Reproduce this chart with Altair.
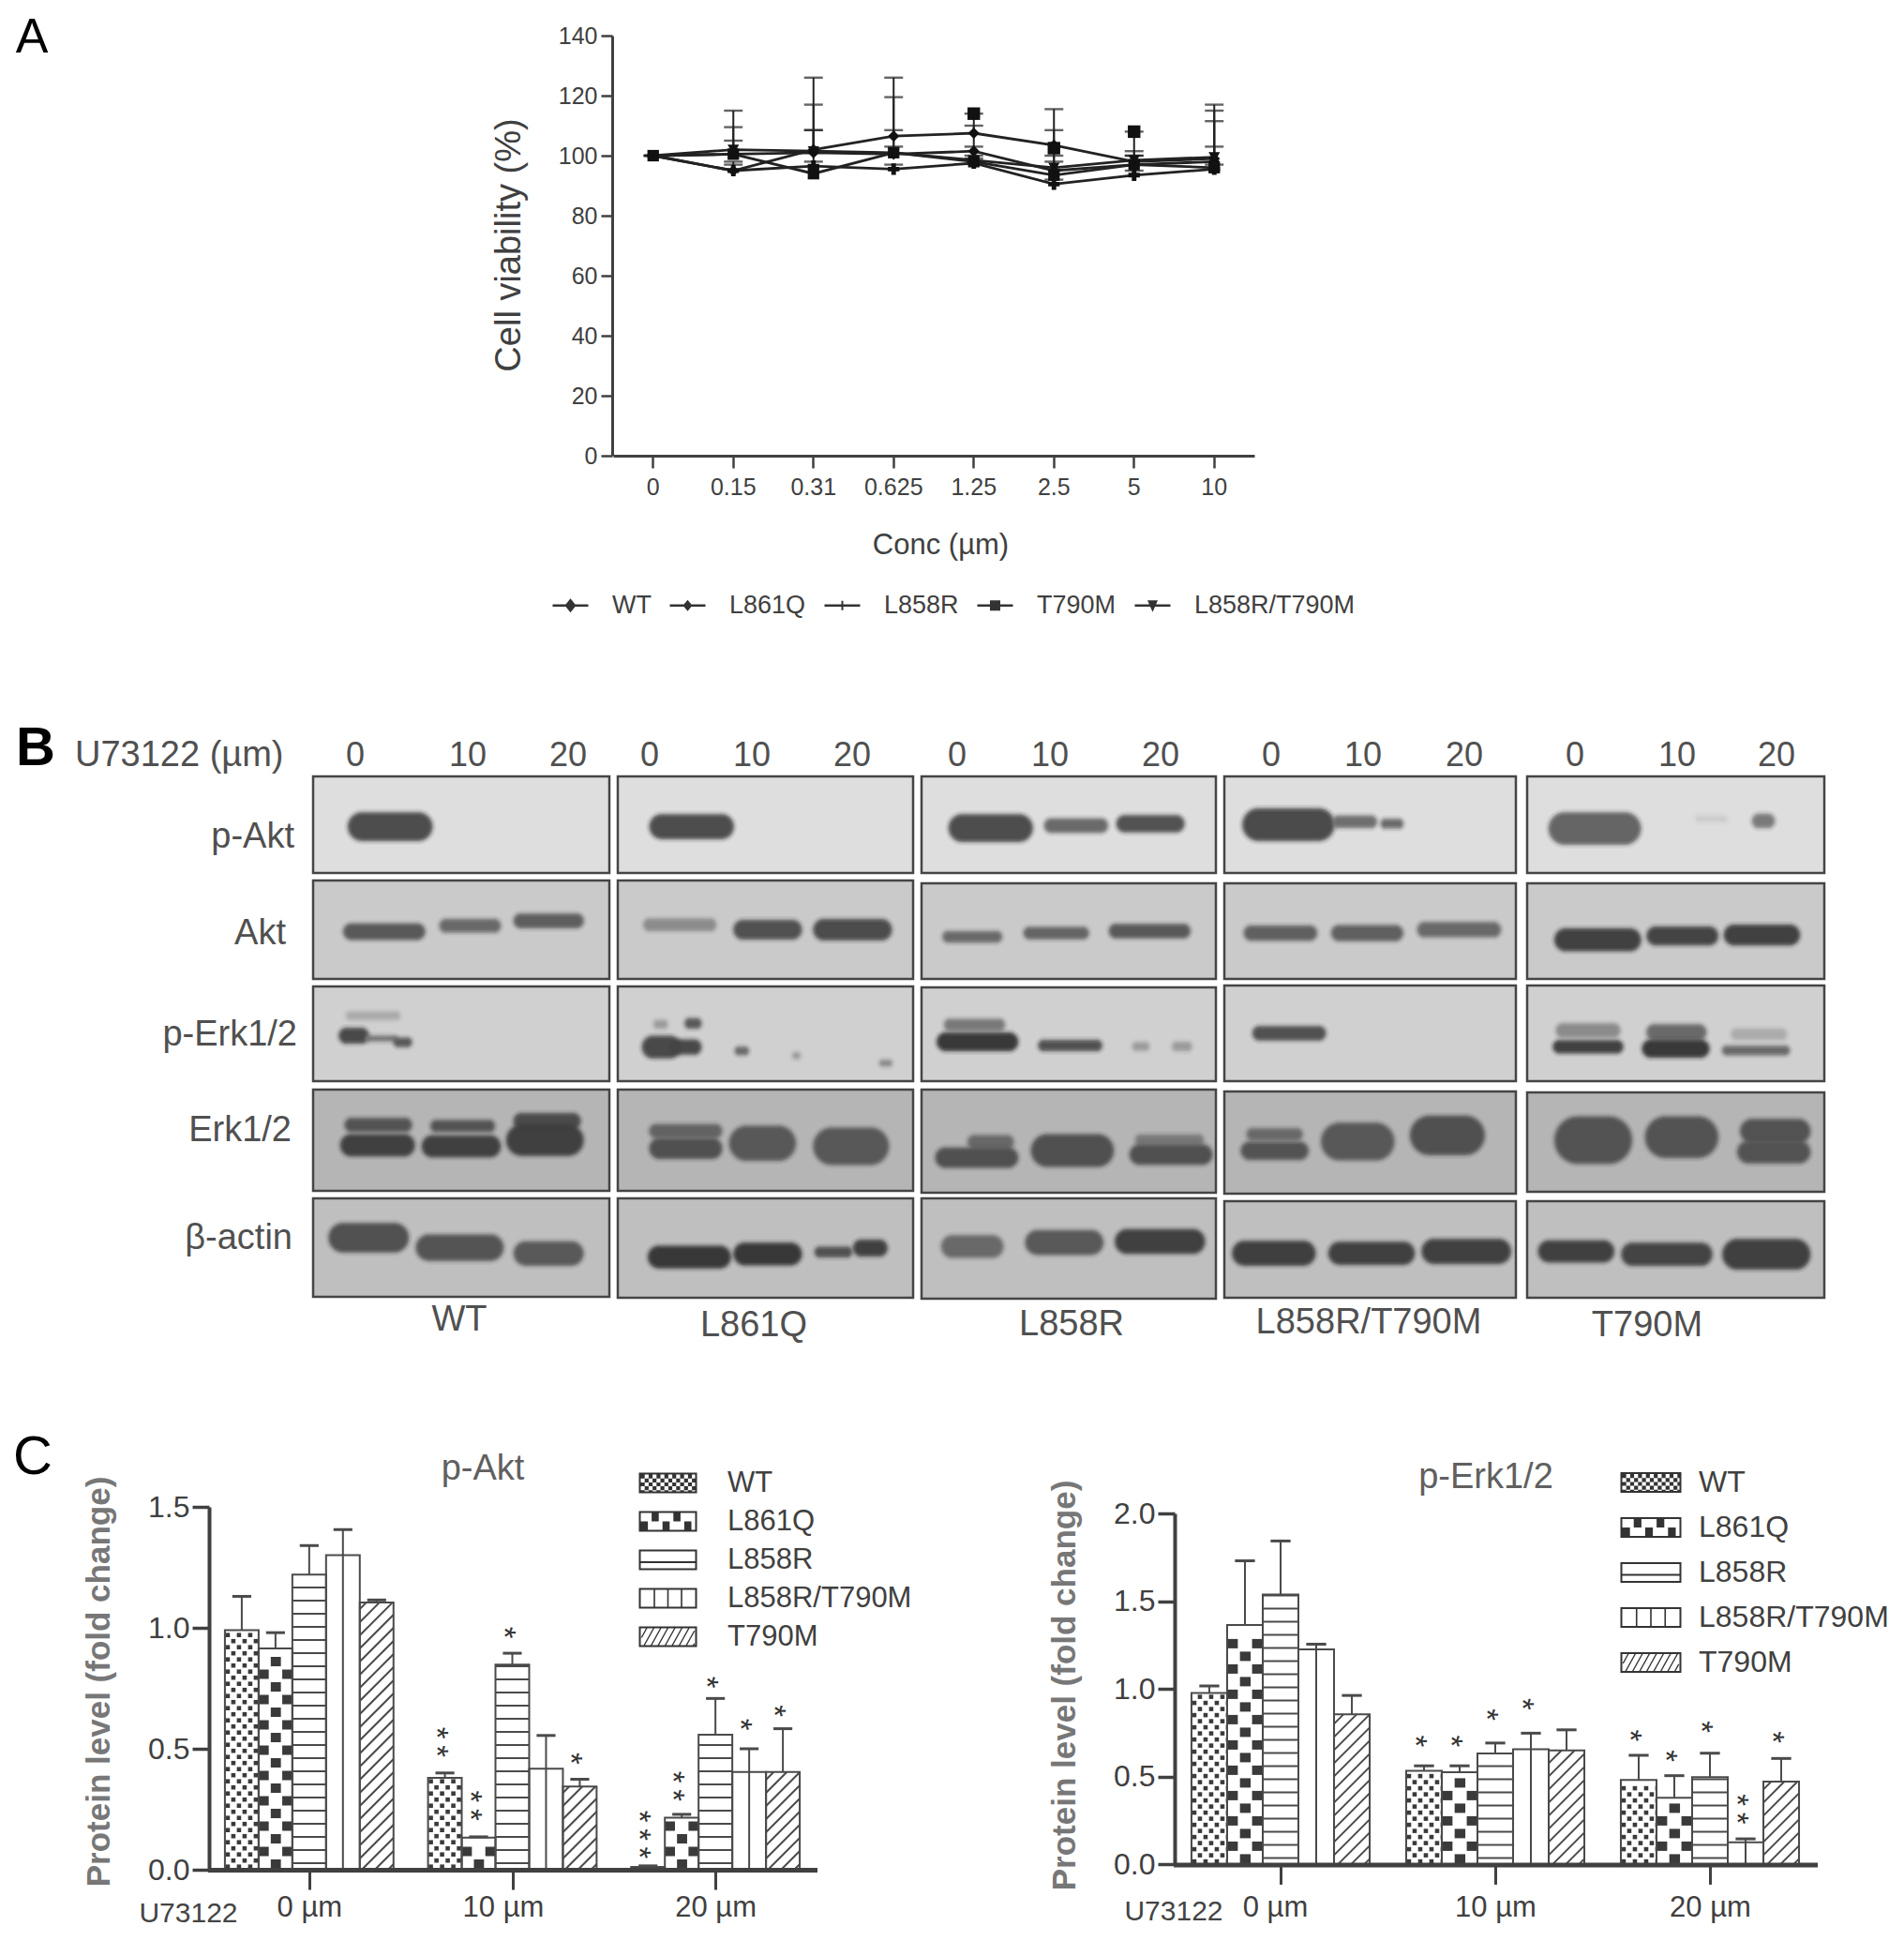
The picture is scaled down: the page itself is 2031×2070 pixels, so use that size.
import numpy as np
import pandas as pd
import altair as alt

alt.data_transformers.disable_max_rows()

W, H = 2015, 2054
SANS = "Liberation Sans"
INK = "#404040"

# ---------- Panel A values
conc = ["0", "0.15", "0.31", "0.625", "1.25", "2.5", "5", "10"]
series_a = ["WT", "L861Q", "L858R", "T790M", "L858R/T790M"]
wt_mean = [100, 100.5, 101, 100.5, 101.5, 95, 97, 98]
l861q_mean = [100, 95, 102, 106.5, 107.5, 103.5, 98, 99]
l858r_mean = [100, 95, 96.5, 95.5, 97.5, 90.5, 93.5, 95.5]
t790m_mean = [100, 100.5, 94, 101, 98, 93.5, 97, 96]
dbl_mean = [100, 102, 101.5, 101, 98.5, 96, 98.5, 99.5]
wt_hi = [100, 105, 108.5, 108.5, 103, 108.5, 101.5, 103]
l861q_hi = [100, 98, 117, 126, 110, 115.5, 100, 115]
l858r_hi = [100, 97, 98, 97, 99, 92, 95, 97]
t790m_hi = [100, 115, 108.5, 119.5, 114, 100, 108, 111.5]
dbl_hi = [100, 109.5, 126, 103, 100, 98, 100, 117]
t790m_extra_conc = ["1.25", "2.5", "5"]
t790m_extra_val = [114, 102.5, 108]

# ---------- Panel C values
doses = ["0 \u00b5m", "10 \u00b5m", "20 \u00b5m"]
genotypes = ["WT", "L861Q", "L858R", "L858R/T790M", "T790M"]
akt_mean = [[.99, .915, 1.22, 1.30, 1.105], [.38, .133, .848, .418, .344], [.012, .215, .558, .404, .404]]
akt_top = [[1.13, .98, 1.34, 1.406, 1.115], [.40, .136, .895, .555, .374], [.016, .229, .708, .50, .583]]
# (dose, genotype, height of the mark, number of asterisks)
akt_stars = [(1, 0, .5275, 2), (1, 1, .265, 2), (1, 2, .98, 1), (1, 4, .46, 1),
             (2, 0, .145, 3), (2, 1, .345, 2), (2, 2, .775, 1), (2, 3, .60, 1), (2, 4, .656, 1)]
erk_mean = [[.977, 1.364, 1.538, 1.225, .856], [.534, .525, .632, .656, .65], [.482, .38, .497, .126, .472]]
erk_top = [[1.017, 1.73, 1.843, 1.255, .963], [.562, .562, .692, .748, .767], [.622, .506, .634, .146, .604]]
erk_stars = [(1, 0, .703, 1), (1, 1, .703, 1), (1, 2, .853, 1), (1, 3, .913, 1),
             (2, 0, .735, 1), (2, 1, .618, 1), (2, 2, .784, 1), (2, 3, .315, 2), (2, 4, .725, 1)]

# ---------- Panel B: membranes, edges of each blot, and bands read as % of the blot
proteins = ["p-Akt", "Akt", "p-Erk1/2", "Erk1/2", "\u03b2-actin"]
blot_cols = {"WT": (334, 650), "L861Q": (659, 974), "L858R": (983, 1297), "L858R/T790M": (1306, 1617), "T790M": (1629, 1946)}
blot_rows = {
    "WT": [(828, 931), (939, 1044), (1052, 1153), (1162, 1270), (1278, 1383)],
    "L861Q": [(828, 931), (939, 1044), (1052, 1153), (1162, 1270), (1278, 1384)],
    "L858R": [(828, 931), (942, 1044), (1053, 1153), (1162, 1272), (1278, 1385)],
    "L858R/T790M": [(828, 931), (942, 1044), (1051, 1153), (1164, 1273), (1281, 1384)],
    "T790M": [(828, 931), (942, 1044), (1051, 1153), (1165, 1271), (1281, 1384)],
}
blot_bg = ["#dedede", "#cacaca", "#d0d0d0", "#b5b5b5", "#bfbfbf"]
bands = {
    "WT": [
        [(12, 40, 52, 28, "#484848")],
        [(10.5, 37.5, 52, 15, "#555555"), (43, 63, 46, 12, "#666666"), (68, 91, 41, 13, "#5a5a5a")],
        [(11.5, 29, 31, 7, "#aaaaaa"), (9, 18.5, 52, 15, "#444444"), (18, 28, 55, 4.5, "#777777"), (27.5, 33, 59, 8, "#555555")],
        [(11, 33, 35, 12, "#505050"), (9.5, 34, 55, 20, "#3c3c3c"), (40, 61, 36, 10, "#505050"), (37, 63, 56, 20, "#3c3c3c"), (68, 90, 31, 14, "#484848"), (65.5, 91, 50, 29, "#3c3c3c")],
        [(5.5, 32, 40, 28, "#4c4c4c"), (35, 64, 50, 25, "#505050"), (68, 91, 56, 23, "#555555")],
    ],
    "L861Q": [
        [(11, 39, 52, 24, "#484848")],
        [(9, 33, 45, 11, "#8a8a8a"), (39.5, 62, 50, 18, "#4c4c4c"), (66.5, 92.5, 50, 20, "#484848")],
        [(12.5, 16.5, 40, 7, "#999999"), (23, 28, 39, 9, "#555555"), (8.5, 21, 64, 22, "#444444"), (18.5, 28, 64, 14, "#444444"), (40, 44, 68, 7, "#666666"), (59.5, 61.5, 73, 5, "#999999"), (89, 92.5, 81, 5, "#888888")],
        [(11, 35, 41, 12, "#606060"), (11, 35, 58, 19, "#4c4c4c"), (38, 60, 53, 33, "#555555"), (66.5, 91.5, 56, 35, "#555555")],
        [(10.5, 38, 59, 21, "#333333"), (39.5, 62, 56, 21, "#333333"), (67, 79, 54, 9, "#4c4c4c"), (80, 91, 50, 15, "#3c3c3c")],
    ],
    "L858R": [
        [(9.5, 37.5, 53.5, 27, "#484848"), (42, 63, 51, 13, "#666666"), (66.5, 89, 49, 16, "#4c4c4c")],
        [(7.5, 27, 56, 10, "#666666"), (35, 56.5, 52, 11, "#606060"), (64, 91, 50, 13, "#555555")],
        [(8, 28, 40, 11, "#777777"), (5.5, 32.5, 58, 18, "#333333"), (40, 61, 62, 10, "#4c4c4c"), (72, 77, 63, 7, "#999999"), (85.5, 91.5, 63, 8, "#999999")],
        [(16, 31, 51, 12, "#666666"), (5, 32.5, 66, 18, "#4c4c4c"), (37.5, 65, 59, 30, "#4c4c4c"), (73, 95.5, 49, 9, "#777777"), (71, 98.5, 63, 18, "#4c4c4c")],
        [(7, 27.5, 48, 21, "#666666"), (35.5, 61.5, 44, 23, "#555555"), (66, 96, 43, 23, "#3c3c3c")],
    ],
    "L858R/T790M": [
        [(6.5, 37.5, 50, 32, "#464646"), (37.5, 52, 47, 11, "#6a6a6a"), (54, 61, 49, 8, "#666666")],
        [(7, 31.5, 52, 14, "#5c5c5c"), (37, 61, 52, 15, "#5c5c5c"), (66.5, 94.5, 48.5, 14, "#666666")],
        [(10, 34.5, 50, 13, "#4c4c4c")],
        [(8, 26.5, 42, 10, "#666666"), (6, 28.5, 58, 16, "#505050"), (33.5, 58, 49, 35, "#555555"), (64, 89, 43, 37, "#4c4c4c")],
        [(3, 31, 54, 24, "#3a3a3a"), (36, 65, 54, 22, "#3c3c3c"), (68, 98, 52, 24, "#3c3c3c")],
    ],
    "T790M": [
        [(7.5, 38, 54, 32, "#606060"), (76, 83, 46, 13, "#777777"), (57, 67, 44, 5, "#cccccc")],
        [(9.5, 38, 59, 22, "#3c3c3c"), (40.5, 64, 55, 18, "#404040"), (66.5, 91.5, 54, 20, "#3c3c3c")],
        [(10, 31, 47, 13, "#888888"), (9, 32, 64, 12, "#3c3c3c"), (40.5, 60, 49, 15, "#666666"), (39, 61, 66, 17, "#333333"), (69, 87, 51, 10, "#aaaaaa"), (66, 88, 68, 8, "#666666")],
        [(9.5, 35, 48, 46, "#505050"), (40, 64, 45, 40, "#505050"), (72, 95, 39, 23, "#505050"), (71, 95, 60, 21, "#505050")],
        [(4, 29, 52, 21, "#3c3c3c"), (32, 62, 55, 22, "#404040"), (66, 95, 55, 30, "#3c3c3c")],
    ],
}
lane_labels = ["0", "10", "20"]
lane_x = {"WT": (379, 499, 606), "L861Q": (693, 802, 909), "L858R": (1021, 1120, 1238), "L858R/T790M": (1356, 1454, 1562), "T790M": (1680, 1789, 1895)}
row_label_pos = [(314, 893), (305, 996), (317, 1104), (311, 1206), (312, 1321)]
column_label_pos = {"WT": (490, 1408), "L861Q": (804, 1414), "L858R": (1143, 1413), "L858R/T790M": (1460, 1411), "T790M": (1757, 1414)}


def P(v):
    return v - 8


# ---------- custom legend symbols (1 unit = 10 px at symbolSize 400)
def rp(x0, y0, x1, y1, ccw=False):
    if ccw:
        return f"M{x0:.3f},{y0:.3f}L{x0:.3f},{y1:.3f}L{x1:.3f},{y1:.3f}L{x1:.3f},{y0:.3f}Z"
    return f"M{x0:.3f},{y0:.3f}L{x1:.3f},{y0:.3f}L{x1:.3f},{y1:.3f}L{x0:.3f},{y1:.3f}Z"


def swatch(kind, hw, hh=1.1, t=0.2):
    s = rp(-hw, -hh, hw, hh) + rp(-hw + t, -hh + t, hw - t, hh - t, True)
    ix0, ix1, iy0, iy1 = -hw + t, hw - t, -hh + t, hh - t
    if kind == "WT":
        c = 0.42
        for r, y in enumerate(np.arange(iy0, iy1 - 1e-6, c)):
            for q, x in enumerate(np.arange(ix0, ix1 - 1e-6, c)):
                if (r + q) % 2 == 0:
                    s += rp(x, y, min(x + c, ix1), min(y + c, iy1))
    elif kind == "L861Q":
        cw = (ix1 - ix0) / 5
        ch = (iy1 - iy0) / 2
        for r in range(2):
            for q in range(5):
                if (r + q) % 2 == 1:
                    s += rp(ix0 + q * cw, iy0 + r * ch, ix0 + (q + 1) * cw - 0.4, iy0 + (r + 1) * ch)
    elif kind == "L858R":
        s += rp(ix0, 0.15, ix1, 0.35)
    elif kind == "L858R/T790M":
        cw = (ix1 - ix0) / 4
        for q in range(1, 4):
            s += rp(ix0 + q * cw - 0.08, iy0, ix0 + q * cw + 0.08, iy1)
    else:
        dx = 1.0
        for xb in np.arange(-hw - dx, hw, 0.75):
            a, b = xb, xb + dx
            ya, yb = iy1, iy0
            if a < ix0:
                ya = iy1 + (iy0 - iy1) * (ix0 - a) / dx
                a = ix0
            if b > ix1 - 0.15:
                yb = iy1 + (iy0 - iy1) * (ix1 - 0.15 - xb) / dx
                b = ix1 - 0.15
            if b <= a:
                continue
            s += f"M{a:.3f},{ya:.3f}L{b:.3f},{yb:.3f}L{b+.15:.3f},{yb:.3f}L{a+.15:.3f},{ya:.3f}Z"
    return s


def marker_symbol(kind, hw=1.9):
    s = rp(-hw, -0.13, hw, 0.13)
    if kind == "WT":
        s += "M0,-0.75L0.6,0L0,0.75L-0.6,0Z"
    elif kind == "L861Q":
        s += "M0,-0.6L0.5,0L0,0.6L-0.5,0Z"
    elif kind == "L858R":
        s += rp(-0.1, -0.5, 0.1, 0.5)
    elif kind == "T790M":
        s += rp(-0.55, -0.55, 0.55, 0.55)
    else:
        s += "M-0.55,-0.55L0.55,-0.55L0,0.7Z"
    return s


# ---------- Panel A
rows_a = []
for name, m, h in zip(series_a, [wt_mean, l861q_mean, l858r_mean, t790m_mean, dbl_mean],
                      [wt_hi, l861q_hi, l858r_hi, t790m_hi, dbl_hi]):
    for c, a, b in zip(conc, m, h):
        rows_a.append({"conc": c, "series": name, "val": a, "hi": b})
df_a = pd.DataFrame(rows_a)
df_a_extra = pd.DataFrame({"conc": t790m_extra_conc, "val": t790m_extra_val})

xa = alt.Scale(type="band", domain=conc, range=[P(654), P(1338)], paddingInner=0, paddingOuter=0)
ya = alt.Scale(domain=[0, 140], range=[P(486), P(38)], nice=False)
tick_style = dict(domainColor=INK, tickColor=INK, labelColor=INK, grid=False, zindex=1)
axis_xa = alt.Axis(title="Conc (\u00b5m)", labelAngle=0, orient="bottom", offset=P(486) - H, domainWidth=3,
                   tickWidth=2.5, tickSize=13, labelFont=SANS, labelFontSize=25, labelPadding=8,
                   titleFont=SANS, titleFontSize=31, titleFontWeight="normal", titleColor=INK,
                   titleX=P(1003), titleY=581 - 486, titleBaseline="middle", **tick_style)
axis_ya = alt.Axis(title="Cell viability (%)", orient="left", offset=-P(653), values=list(range(0, 141, 20)),
                   domainWidth=3, tickWidth=2.5, tickSize=12, labelFont=SANS, labelFontSize=25, labelPadding=4,
                   titleFont=SANS, titleFontSize=38, titleFontWeight="normal", titleColor=INK,
                   titleX=543 - 653, titleY=P(261), titleBaseline="middle", **tick_style)

a_rule = alt.Chart(df_a).mark_rule(color="#222222", strokeWidth=2).encode(
    x=alt.X("conc:N", scale=xa, axis=axis_xa), y=alt.Y("val:Q", scale=ya, axis=axis_ya), y2="hi:Q", detail="series:N")
a_cap = alt.Chart(df_a).mark_tick(color="#222222", thickness=2.4, size=20).encode(
    x=alt.X("conc:N", scale=xa, axis=None), y=alt.Y("hi:Q", scale=ya, axis=None))
a_line = alt.Chart(df_a).mark_line(color="#222222", strokeWidth=2.8).encode(
    x=alt.X("conc:N", scale=xa, axis=None), y=alt.Y("val:Q", scale=ya, axis=None), detail="series:N")
a_pts = alt.Chart(df_a).mark_point(filled=True, color="#111111", size=150, opacity=1).encode(
    x=alt.X("conc:N", scale=xa, axis=None), y=alt.Y("val:Q", scale=ya, axis=None),
    shape=alt.Shape("series:N", legend=None, scale=alt.Scale(
        domain=series_a, range=["diamond", "diamond", "cross", "square", "triangle-down"])))
a_extra = alt.Chart(df_a_extra).mark_point(filled=True, color="#111111", size=180, shape="square", opacity=1).encode(
    x=alt.X("conc:N", scale=xa, axis=None), y=alt.Y("val:Q", scale=ya, axis=None))
panel_a = [a_rule, a_cap, a_line, a_pts, a_extra]


# ---------- Panel C builder
BAR_W = 0.166


def bar_panel(means, tops, stars, x_range, y_range, ymax, yticks, axis_x_page, ytitle_x, ytitle_y, bar_px,
              label_shift, label_pad):
    px_per_unit = (y_range[0] - y_range[1]) / ymax
    px_per_x = (x_range[1] - x_range[0]) / 3
    xs = alt.Scale(domain=[-0.5, 2.5], range=[P(x_range[0]), P(x_range[1])], nice=False, zero=False)
    ys = alt.Scale(domain=[0, ymax], range=[P(y_range[0]), P(y_range[1])], nice=False)
    bars, err, caps, fills, lines = [], [], [], [], []
    for g, (mrow, trow) in enumerate(zip(means, tops)):
        for k, (m, t) in enumerate(zip(mrow, trow)):
            x0 = g + (k - 2.5) * BAR_W
            x1 = x0 + BAR_W
            xc = (x0 + x1) / 2
            bars.append({"x": x0, "x2": x1, "y": m})
            err.append({"x": xc, "y": m, "y2": t})
            caps.append({"x": x0 + BAR_W * 0.22, "x2": x1 - BAR_W * 0.22, "y": t})
            hpx = m * px_per_unit
            if k == 0:  # staggered dots
                step_y, step_x, dot = 6.5, 12.0, 4.6
                for r in range(int(hpx // step_y)):
                    start = -3.0 if r % 2 else 3.0
                    for cx in np.arange(start, bar_px + 3, step_x):
                        a, b = max(cx - dot / 2, 0), min(cx + dot / 2, bar_px)
                        if b > a:
                            fills.append({"x": x0 + a / px_per_x, "x2": x0 + b / px_per_x,
                                          "y": (r * step_y + 1) / px_per_unit,
                                          "y2": min(r * step_y + 1 + dot, hpx) / px_per_unit})
            elif k == 1:  # large chequer
                step = 13.5
                for r in range(int(hpx // step)):
                    ybot = r * step + 1
                    ytop = min(ybot + 10, hpx)
                    slots = [0.36] if r % 2 == 0 else [0.0, 0.70]
                    for f in slots:
                        fills.append({"x": x0 + f * BAR_W, "x2": x0 + (f + 0.30) * BAR_W,
                                      "y": ybot / px_per_unit, "y2": ytop / px_per_unit})
            elif k == 2:  # horizontal rules
                for h in np.arange(7, hpx, 14.0):
                    lines.append({"x": x0, "x2": x1, "y": h / px_per_unit, "y2": h / px_per_unit})
            elif k == 3:  # one vertical rule
                lines.append({"x": xc, "x2": xc, "y": 0, "y2": m})
            else:  # diagonal hatch rising to the right
                slope = 1.0
                for cc in np.arange(-slope * bar_px + 6, hpx, 14.0):
                    xa0, ha0 = 0.0, cc
                    if ha0 < 0:
                        xa0, ha0 = -cc / slope, 0.0
                    xa1, ha1 = bar_px, cc + slope * bar_px
                    if ha1 > hpx:
                        xa1, ha1 = (hpx - cc) / slope, hpx
                    if xa1 > xa0:
                        lines.append({"x": x0 + xa0 / px_per_x, "x2": x0 + xa1 / px_per_x,
                                      "y": ha0 / px_per_unit, "y2": ha1 / px_per_unit})
    star_df = pd.DataFrame([{"x": g + (k - 2) * BAR_W, "y": v, "s": "\u2009".join("*" * n)} for g, k, v, n in stars])
    labels_expr = "[" + ",".join(f"'{d}'" for d in doses) + "][datum.value]"
    axis_x = alt.Axis(title=None, orient="bottom", offset=P(y_range[0]) - H, values=[0, 1, 2], labelExpr=labels_expr,
                      domainWidth=5, tickWidth=3, tickSize=21, labelFont=SANS, labelFontSize=31, labelPadding=label_pad,
                      labelOffset={"condition": {"test": f"datum.value == {label_shift[0]}", "value": label_shift[1]}, "value": 0},
                      labelAngle=0, **tick_style)
    axis_y = alt.Axis(title="Protein level (fold change)", orient="left", offset=-P(axis_x_page), values=yticks,
                      format=".1f", domainWidth=4, tickWidth=3.5, tickSize=18, labelFont=SANS, labelFontSize=32,
                      labelFontWeight="normal", labelPadding=3, titleFont=SANS, titleFontSize=35, titleFontWeight="bold",
                      titleColor="#777777", titleX=ytitle_x - axis_x_page, titleY=P(ytitle_y), titleBaseline="middle",
                      **tick_style)
    X = lambda f="x", axis=None: alt.X(f"{f}:Q", scale=xs, axis=axis)
    Y = lambda f="y", axis=None: alt.Y(f"{f}:Q", scale=ys, axis=axis)
    b = pd.DataFrame(bars)
    return [
        alt.Chart(b).mark_rect(fill="white").encode(x=X("x", axis_x), x2="x2:Q", y=Y("y", axis_y), y2=alt.datum(0)),
        alt.Chart(pd.DataFrame(fills)).mark_rect(fill="#3a3a3a").encode(x=X(), x2="x2:Q", y=Y(), y2="y2:Q"),
        alt.Chart(pd.DataFrame(lines)).mark_rule(color="#4a4a4a", strokeWidth=2).encode(x=X(), x2="x2:Q", y=Y(), y2="y2:Q"),
        alt.Chart(b).mark_rect(fill="transparent", stroke="#4a4a4a", strokeWidth=2).encode(x=X(), x2="x2:Q", y=Y(), y2=alt.datum(0)),
        alt.Chart(pd.DataFrame(err)).mark_rule(color="#4a4a4a", strokeWidth=2).encode(x=X(), y=Y(), y2="y2:Q"),
        alt.Chart(pd.DataFrame(caps)).mark_rule(color="#4a4a4a", strokeWidth=3).encode(x=X(), x2="x2:Q", y=Y()),
        alt.Chart(star_df).mark_text(font=SANS, fontSize=33, color="#333333", baseline="middle", align="center",
                                     angle=90, dy=10).encode(x=X(), y=Y(), text="s:N"),
    ]


panel_c1 = bar_panel(akt_mean, akt_top, akt_stars, (221.5, 871.5), (1994, 1607), 1.5, [0, .5, 1, 1.5], 223, 105, 1793, 36,
                     (1, -10), 4)
panel_c2 = bar_panel(erk_mean, erk_top, erk_stars, (1251.5, 1938.5), (1988.4, 1614), 2.0, [0, .5, 1, 1.5, 2], 1253, 1135, 1797, 38,
                     (0, -6), 10)

# ---------- Panel B
xb = alt.Scale(domain=[0, W], range=[0, W], nice=False, zero=False)
yb = alt.Scale(domain=[0, H], range=[0, H], nice=False, zero=False)
bg_rows, band_rows = [], []
for g in blot_cols:
    x0, x1 = blot_cols[g]
    for i, (y0, y1) in enumerate(blot_rows[g]):
        bg_rows.append({"x": P(x0), "x2": P(x1), "y": P(y0), "y2": P(y1), "tone": blot_bg[i]})
        for (a, b, cy, hh, tone) in bands[g][i]:
            bx0 = x0 + a / 100 * (x1 - x0)
            bx1 = x0 + b / 100 * (x1 - x0)
            yc = y0 + cy / 100 * (y1 - y0)
            half = hh / 100 * (y1 - y0) / 2
            for grow, op in [(5, .08), (3.5, .14), (2, .22), (1, .32), (0, .42), (-1.5, .6), (-3, .6)]:
                hw = max(half + grow, 0.8)
                gx = max(grow, -(bx1 - bx0) / 2 + 1)
                band_rows.append({"x": P(bx0 - gx), "x2": P(bx1 + gx), "y": P(yc - hw), "y2": P(yc + hw),
                                  "tone": tone, "op": op})
Xb = lambda f="x": alt.X(f"{f}:Q", scale=xb, axis=None)
Yb = lambda f="y": alt.Y(f"{f}:Q", scale=yb, axis=None)
blot_bg_layer = alt.Chart(pd.DataFrame(bg_rows)).mark_rect(stroke="#454545", strokeWidth=2.5).encode(
    x=Xb(), x2="x2:Q", y=Yb(), y2="y2:Q", fill=alt.Fill("tone:N", scale=None))
blot_band_layer = alt.Chart(pd.DataFrame(band_rows)).mark_rect(cornerRadius=100).encode(
    x=Xb(), x2="x2:Q", y=Yb(), y2="y2:Q", fill=alt.Fill("tone:N", scale=None), opacity=alt.Opacity("op:Q", scale=None))


def text_layer(rows, size, color="#505050", align="center", weight="normal", font=SANS):
    d = pd.DataFrame([{"x": P(x), "y": P(y), "t": t} for t, x, y in rows])
    return alt.Chart(d).mark_text(font=font, fontSize=size, color=color, align=align, baseline="middle",
                                  fontWeight=weight).encode(x=Xb(), y=Yb(), text="t:N")


lane_rows = [(t, xx, 806) for g in lane_x for t, xx in zip(lane_labels, lane_x[g])]
row_rows = [(t, x, y) for t, (x, y) in zip(proteins, row_label_pos)]
col_rows = [(g, *column_label_pos[g]) for g in blot_cols]
panel_b = [
    blot_bg_layer, blot_band_layer,
    text_layer(lane_rows, 36),
    text_layer([("U73122 (\u00b5m)", 80, 806)], 38, align="left"),
    text_layer(row_rows, 38, align="right"),
    text_layer(col_rows, 38),
    text_layer([("A", 34, 39.5)], 52, color="#000000"),
    text_layer([("C", 35, 1555)], 58, color="#000000"),
    text_layer([("B", 38, 799)], 58, color="#000000", weight="bold"),
    text_layer([("p-Akt", 515, 1567), ("p-Erk1/2", 1585, 1576)], 38, color="#606060"),
    text_layer([("U73122", 201, 2041), ("U73122", 1252, 2039)], 30, color="#444444"),
]


# ---------- legends
def legend_layer(names, paths, **legend_args):
    d = pd.DataFrame({"name": names})
    base = dict(title=None, orient="none", symbolSize=400, symbolFillColor="#333333", symbolStrokeWidth=0,
                symbolOpacity=1, padding=0, labelLimit=500, labelColor="#404040")
    base.update(legend_args)
    return alt.Chart(d).mark_point(filled=True, size=0, color="#333333").encode(
        shape=alt.Shape("name:N", sort=names, scale=alt.Scale(domain=names, range=paths), legend=alt.Legend(**base)))


leg_a = legend_layer(series_a, [marker_symbol(k) for k in series_a], legendX=587, legendY=624, columns=5,
                     direction="horizontal", gridAlign="each", columnPadding=19, labelOffset=31,
                     labelFont=SANS, labelFontSize=27, symbolFillColor="#111111")
leg_c1 = legend_layer(genotypes, [swatch(k, 3.1) for k in genotypes], legendX=689, legendY=1558, columns=1,
                      rowPadding=9, labelOffset=48, labelFont=SANS, labelFontSize=31)
leg_c2 = legend_layer(genotypes, [swatch(k, 3.25) for k in genotypes], legendX=1737, legendY=1557, columns=1,
                      rowPadding=16, labelOffset=35, labelFont=SANS, labelFontSize=32)

chart = alt.layer(*panel_b, *panel_a, *panel_c1, *panel_c2, leg_a, leg_c1, leg_c2).resolve_scale(
    x="independent", y="independent", shape="independent"
).resolve_axis(x="independent", y="independent").resolve_legend(shape="independent").properties(
    width=W, height=H, padding=0, autosize=alt.AutoSizeParams(type="none"), background="white"
).configure_view(stroke=None)

chart.save("out.html", embed_options={"renderer": "svg", "actions": False})
